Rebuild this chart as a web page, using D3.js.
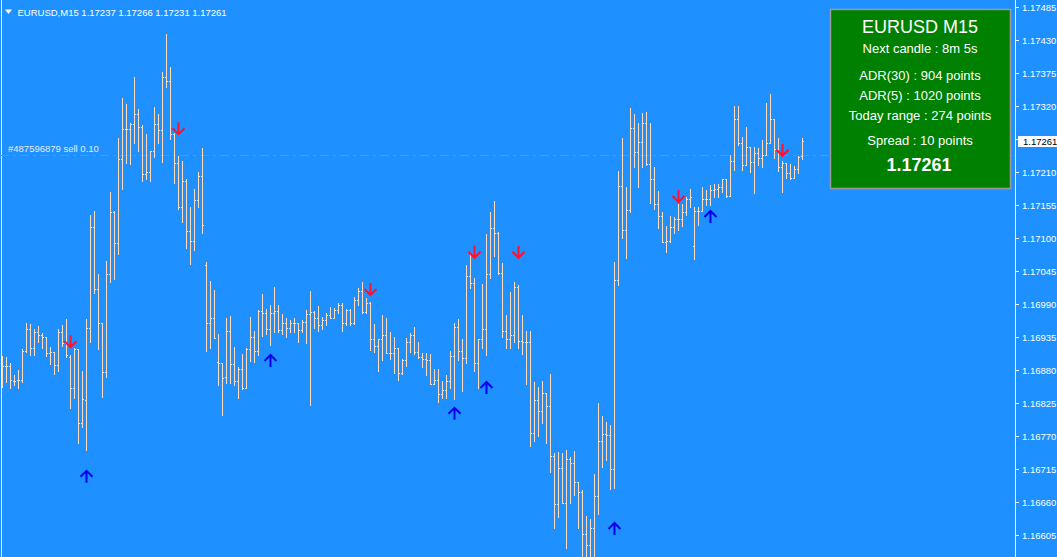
<!DOCTYPE html>
<html><head><meta charset="utf-8">
<script src="https://cdn.jsdelivr.net/npm/d3@7"></script>
<style>html,body{margin:0;padding:0;background:#1e90ff;overflow:hidden}svg{display:block}</style>
</head><body>
<script>
const openP = [
1.16887,1.16887,1.16887,1.16862,1.16863,1.16863,1.16912,1.16948,1.16917,1.16943,
1.16938,1.16935,1.16908,1.16910,1.16888,1.16943,1.16925,1.16902,1.16850,1.16915,
1.16792,1.16830,1.16950,1.17118,1.17015,1.16958,1.16877,1.17040,1.17143,1.17092,
1.17232,1.17282,1.17282,1.17290,1.17307,1.17285,1.17207,1.17210,1.17245,1.17290,
1.17280,1.17368,1.17362,1.17273,1.17225,1.17152,1.17195,1.17112,1.17095,1.17163,
1.17203,1.17055,1.16958,1.16967,1.16893,1.16892,1.16868,1.16945,1.16890,1.16862,
1.16882,1.16850,1.16915,1.16935,1.16912,1.16978,1.16975,1.16948,1.16975,1.16978,
1.16947,1.16958,1.16950,1.16958,1.16958,1.16947,1.16960,1.16973,1.16977,1.16967,
1.16955,1.16963,1.16972,1.16967,1.16980,1.16988,1.16958,1.16980,1.16958,1.16997,
1.17012,1.16977,1.16992,1.16932,1.16920,1.16932,1.16938,1.16908,1.16908,1.16917,
1.16875,1.16897,1.16927,1.16938,1.16910,1.16902,1.16898,1.16897,1.16857,1.16863,
1.16840,1.16847,1.16862,1.16903,1.16952,1.16912,1.16900,1.17037,1.17025,1.16892,
1.16932,1.16948,1.17040,1.17117,1.17108,1.17042,1.16945,1.16932,1.16938,1.17018,
1.16928,1.16927,1.16927,1.16775,1.16830,1.16812,1.16842,1.16820,1.16737,1.16657,
1.16717,1.16658,1.16732,1.16725,1.16693,1.16677,1.16607,1.16588,1.16617,1.16670,
1.16762,1.16773,1.16772,1.16715,1.17030,1.17187,1.17113,1.17147,1.17283,1.17243,
1.17260,1.17292,1.17223,1.17198,1.17157,1.17137,1.17093,1.17095,1.17118,1.17132,
1.17132,1.17143,1.17165,1.17087,1.17145,1.17145,1.17165,1.17165,1.17180,1.17182,
1.17185,1.17198,1.17170,1.17228,1.17298,1.17258,1.17222,1.17252,1.17227,1.17242,
1.17233,1.17238,1.17258,1.17298,1.17248,1.17218,1.17225,1.17208,1.17200,1.17215,1.17237];
const highP = [
1.16903,1.16902,1.16892,1.16872,1.16880,1.16915,1.16958,1.16957,1.16948,1.16953,
1.16942,1.16935,1.16918,1.16910,1.16948,1.16955,1.16965,1.16905,1.16917,1.16915,
1.16878,1.16965,1.17138,1.17145,1.17040,1.16958,1.17062,1.17177,1.17145,1.17267,
1.17333,1.17323,1.17292,1.17368,1.17315,1.17288,1.17273,1.17245,1.17318,1.17307,
1.17377,1.17440,1.17385,1.17275,1.17237,1.17228,1.17198,1.17152,1.17182,1.17210,
1.17250,1.17060,1.17028,1.17013,1.16940,1.16892,1.16967,1.16970,1.16918,1.16885,
1.16907,1.16917,1.16968,1.16945,1.16980,1.17007,1.16982,1.16988,1.17018,1.16988,
1.16973,1.16967,1.16963,1.16967,1.16958,1.16963,1.16980,1.17012,1.16978,1.16987,
1.16968,1.16975,1.16985,1.16983,1.16992,1.16992,1.16982,1.16982,1.17002,1.17017,
1.17027,1.17000,1.16993,1.16957,1.16932,1.16972,1.16967,1.16943,1.16935,1.16917,
1.16898,1.16933,1.16942,1.16952,1.16927,1.16908,1.16908,1.16907,1.16882,1.16882,
1.16862,1.16872,1.16912,1.16958,1.16965,1.16932,1.17055,1.17073,1.17033,1.16932,
1.17023,1.17107,1.17143,1.17162,1.17110,1.17058,1.16972,1.17010,1.17027,1.17022,
1.16972,1.16945,1.16945,1.16860,1.16852,1.16862,1.16842,1.16873,1.16742,1.16743,
1.16742,1.16747,1.16735,1.16745,1.16693,1.16680,1.16637,1.16632,1.16707,1.16825,
1.16803,1.16793,1.16788,1.17060,1.17212,1.17267,1.17185,1.17317,1.17307,1.17292,
1.17308,1.17310,1.17292,1.17218,1.17178,1.17143,1.17120,1.17137,1.17135,1.17157,
1.17157,1.17168,1.17182,1.17152,1.17152,1.17185,1.17180,1.17188,1.17190,1.17190,
1.17198,1.17198,1.17238,1.17320,1.17320,1.17268,1.17285,1.17252,1.17252,1.17250,
1.17263,1.17325,1.17340,1.17298,1.17267,1.17228,1.17225,1.17223,1.17220,1.17237,1.17266];
const lowP = [
1.16852,1.16860,1.16850,1.16855,1.16850,1.16860,1.16910,1.16905,1.16905,1.16927,
1.16917,1.16903,1.16890,1.16873,1.16878,1.16920,1.16902,1.16817,1.16833,1.16758,
1.16785,1.16747,1.16927,1.17008,1.16915,1.16835,1.16868,1.17027,1.17032,1.17073,
1.17182,1.17225,1.17223,1.17258,1.17245,1.17195,1.17198,1.17195,1.17235,1.17258,
1.17227,1.17352,1.17265,1.17192,1.17148,1.17127,1.17083,1.17057,1.17080,1.17152,
1.17108,1.16912,1.16917,1.16933,1.16855,1.16805,1.16858,1.16858,1.16855,1.16833,
1.16848,1.16850,1.16895,1.16893,1.16905,1.16937,1.16940,1.16922,1.16943,1.16943,
1.16940,1.16935,1.16943,1.16943,1.16927,1.16943,1.16925,1.16822,1.16950,1.16945,
1.16948,1.16955,1.16967,1.16967,1.16975,1.16945,1.16955,1.16955,1.16957,1.16988,
1.16975,1.16975,1.16913,1.16910,1.16878,1.16897,1.16908,1.16898,1.16875,1.16863,
1.16873,1.16887,1.16910,1.16907,1.16900,1.16885,1.16872,1.16857,1.16857,1.16827,
1.16833,1.16833,1.16850,1.16832,1.16897,1.16845,1.16892,1.17017,1.16878,1.16850,
1.16917,1.16905,1.17033,1.17070,1.17040,1.16935,1.16917,1.16917,1.16927,1.16917,
1.16907,1.16857,1.16753,1.16762,1.16770,1.16792,1.16758,1.16710,1.16617,1.16635,
1.16658,1.16583,1.16658,1.16672,1.16617,1.16555,1.16547,1.16538,1.16550,1.16640,
1.16718,1.16730,1.16682,1.16683,1.17022,1.17100,1.17067,1.17143,1.17218,1.17185,
1.17218,1.17222,1.17158,1.17148,1.17117,1.17093,1.17077,1.17093,1.17108,1.17113,
1.17120,1.17138,1.17152,1.17065,1.17122,1.17145,1.17155,1.17155,1.17168,1.17168,
1.17177,1.17168,1.17170,1.17213,1.17255,1.17213,1.17222,1.17210,1.17175,1.17222,
1.17218,1.17238,1.17258,1.17233,1.17212,1.17177,1.17200,1.17198,1.17200,1.17208,1.17231];
const closeP = [
1.16887,1.16887,1.16863,1.16862,1.16863,1.16912,1.16948,1.16917,1.16943,1.16938,
1.16935,1.16908,1.16910,1.16888,1.16943,1.16925,1.16905,1.16850,1.16915,1.16792,
1.16832,1.16950,1.17118,1.17015,1.16958,1.16877,1.17040,1.17143,1.17092,1.17232,
1.17282,1.17282,1.17290,1.17307,1.17285,1.17207,1.17210,1.17245,1.17290,1.17280,
1.17368,1.17362,1.17273,1.17225,1.17152,1.17195,1.17112,1.17095,1.17163,1.17203,
1.17122,1.16958,1.16967,1.16933,1.16892,1.16867,1.16945,1.16890,1.16862,1.16882,
1.16850,1.16915,1.16935,1.16912,1.16978,1.16975,1.16948,1.16975,1.16978,1.16947,
1.16958,1.16950,1.16958,1.16958,1.16947,1.16960,1.16973,1.16977,1.16967,1.16955,
1.16963,1.16972,1.16967,1.16980,1.16988,1.16958,1.16980,1.16958,1.16997,1.17012,
1.16977,1.16992,1.16932,1.16920,1.16932,1.16938,1.16908,1.16908,1.16917,1.16875,
1.16897,1.16927,1.16938,1.16910,1.16902,1.16898,1.16897,1.16857,1.16863,1.16840,
1.16847,1.16862,1.16903,1.16952,1.16912,1.16900,1.17037,1.17025,1.16892,1.16932,
1.16948,1.17040,1.17117,1.17108,1.17042,1.16945,1.16932,1.16938,1.17018,1.16928,
1.16927,1.16927,1.16775,1.16830,1.16812,1.16842,1.16820,1.16737,1.16657,1.16717,
1.16658,1.16732,1.16725,1.16693,1.16677,1.16607,1.16588,1.16617,1.16670,1.16762,
1.16773,1.16772,1.16715,1.17030,1.17187,1.17113,1.17147,1.17283,1.17243,1.17260,
1.17292,1.17223,1.17198,1.17157,1.17137,1.17093,1.17095,1.17118,1.17132,1.17132,
1.17143,1.17165,1.17168,1.17145,1.17145,1.17165,1.17165,1.17180,1.17182,1.17185,
1.17198,1.17170,1.17228,1.17298,1.17258,1.17222,1.17252,1.17227,1.17242,1.17233,
1.17238,1.17258,1.17298,1.17248,1.17218,1.17225,1.17208,1.17200,1.17215,1.17235,1.17261];

const sellArrowIdx = [17, 44, 92, 118, 129, 169, 195];
const sellArrowPrice = [1.16918, 1.17273, 1.17005, 1.17067, 1.17067, 1.17160, 1.17237];
const buyArrowIdx = [21, 67, 113, 121, 153, 177];
const buyArrowPrice = [1.16712, 1.16905, 1.16817, 1.16860, 1.16625, 1.17145];

const priceTicks = [1.17485,1.17430,1.17375,1.17320,1.17265,1.17210,1.17155,1.17100,1.17045,
                    1.16990,1.16935,1.16880,1.16825,1.16770,1.16715,1.16660,1.16605];
const hiddenTick = 1.17265; // covered by the bid label
const headerText = "EURUSD,M15  1.17237 1.17266 1.17231 1.17261";
const orderPrice = 1.17238;
const orderLabel = "#487596879 sell 0.10";
const bidPrice = 1.17261;
const panelTitle = "EURUSD M15";
const panelLines = ["Next candle : 8m 5s", "ADR(30) : 904 points", "ADR(5) : 1020 points", "Today range : 274 points", "Spread : 10 points"];
const panelPrice = "1.17261";

const W = 1057, H = 557;
const svg = d3.select("body").append("svg").attr("width", W).attr("height", H);
svg.append("rect").attr("width", W).attr("height", H).attr("fill", "#1e90ff");

const y = d3.scaleLinear().domain([1.16605, 1.17485]).range([535, 7]);
const x = d3.scaleLinear().domain([0, openP.length - 1]).range([2, 802]);
const py = v => Math.round(y(v));
const FONT = "Liberation Sans, Arial, sans-serif";

// left border
svg.append("line").attr("x1", 1.5).attr("x2", 1.5).attr("y1", 0).attr("y2", H)
  .attr("stroke", "#ffffff").attr("stroke-width", 1);

// order line
svg.append("line").attr("x1", 0).attr("x2", 1015).attr("y1", py(orderPrice) + 0.5).attr("y2", py(orderPrice) + 0.5)
  .attr("stroke", "#32cd32").attr("stroke-width", 1).attr("stroke-dasharray", "9,4,3,4")
  .attr("shape-rendering", "crispEdges");
svg.append("text").attr("x", 8).attr("y", py(orderPrice) - 3)
  .attr("font-family", FONT).attr("font-size", "9.5px")
  .attr("fill", "#e6ecf8").text(orderLabel);

// bars
const bars = svg.append("g").attr("shape-rendering", "crispEdges").attr("fill", "#ffdcb8");
const idx = d3.range(openP.length);
bars.selectAll("rect.hl").data(idx).join("rect").attr("class", "hl")
  .attr("x", i => Math.round(x(i))).attr("width", 1)
  .attr("y", i => py(highP[i])).attr("height", i => py(lowP[i]) - py(highP[i]) + 1);
bars.selectAll("rect.op").data(idx).join("rect").attr("class", "op")
  .attr("x", i => Math.round(x(i)) - 1).attr("width", 1)
  .attr("y", i => py(openP[i])).attr("height", 1);
bars.selectAll("rect.cl").data(idx).join("rect").attr("class", "cl")
  .attr("x", i => Math.round(x(i)) + 1).attr("width", 1)
  .attr("y", i => py(closeP[i])).attr("height", 1);

// arrows
const sellG = svg.append("g").attr("fill", "none").attr("stroke", "#ff1030").attr("stroke-width", 2);
sellArrowIdx.forEach((i, k) => {
  const cx = Math.round(x(i)) + 0.5, t = y(sellArrowPrice[k]);
  sellG.append("path").attr("d", `M${cx},${t - 12}V${t}M${cx - 6},${t - 6}L${cx},${t}L${cx + 6},${t - 6}`);
});
const buyG = svg.append("g").attr("fill", "none").attr("stroke", "#0000ee").attr("stroke-width", 2);
buyArrowIdx.forEach((i, k) => {
  const cx = Math.round(x(i)) + 0.5, t = y(buyArrowPrice[k]);
  buyG.append("path").attr("d", `M${cx},${t + 12}V${t}M${cx - 6},${t + 6}L${cx},${t}L${cx + 6},${t + 6}`);
});

// header
svg.append("path").attr("d", "M5,9.5L12,9.5L8.5,14Z").attr("fill", "#ffffff");
svg.append("text").attr("x", 17.5).attr("y", 16)
  .attr("font-family", FONT).attr("font-size", "9.5px")
  .attr("fill", "#ffffff").text(headerText);

// right price axis
const axisG = svg.append("g").attr("transform", "translate(1015,0)");
const axis = d3.axisRight(y).tickValues(priceTicks).tickSize(4).tickPadding(3)
  .tickFormat(d => d === hiddenTick ? "" : d3.format(".5f")(d));
axisG.call(axis);
axisG.select(".domain").remove();
axisG.append("line").attr("x1", 0.5).attr("x2", 0.5).attr("y1", 0).attr("y2", H).attr("stroke", "#ffffff");
axisG.selectAll(".tick line").attr("stroke", "#ffffff").attr("shape-rendering", "crispEdges");
axisG.selectAll(".tick text").attr("fill", "#ffffff")
  .attr("font-family", FONT).attr("font-size", "9.5px");

// bid label
const by = y(bidPrice);
svg.append("rect").attr("x", 1018).attr("y", Math.round(by) - 5).attr("width", 39).attr("height", 11).attr("fill", "#ffffff");
svg.append("text").attr("x", 1023).attr("y", Math.round(by) + 4)
  .attr("font-family", FONT).attr("font-size", "9.5px")
  .attr("fill", "#000000").text(d3.format(".5f")(bidPrice));

// info panel
const panel = svg.append("g");
panel.append("rect").attr("x", 830.5).attr("y", 9.5).attr("width", 180).attr("height", 179)
  .attr("fill", "#008000").attr("stroke", "#9a9a9a").attr("stroke-width", 1.5);
const pcx = 920;
panel.append("text").attr("x", pcx).attr("y", 33).attr("text-anchor", "middle")
  .attr("font-family", FONT).attr("font-size", "18px")
  .attr("fill", "#ffffff").text(panelTitle);
const lineY = [53, 80, 100, 120, 145];
panelLines.forEach((t, k) => {
  panel.append("text").attr("x", pcx).attr("y", lineY[k]).attr("text-anchor", "middle")
    .attr("font-family", FONT).attr("font-size", "13px")
    .attr("fill", "#ffffff").text(t);
});
panel.append("text").attr("x", pcx - 1).attr("y", 170.5).attr("text-anchor", "middle")
  .attr("font-family", FONT).attr("font-size", "18px").attr("font-weight", "bold")
  .attr("fill", "#ffffff").text(panelPrice);
</script>
</body></html>
